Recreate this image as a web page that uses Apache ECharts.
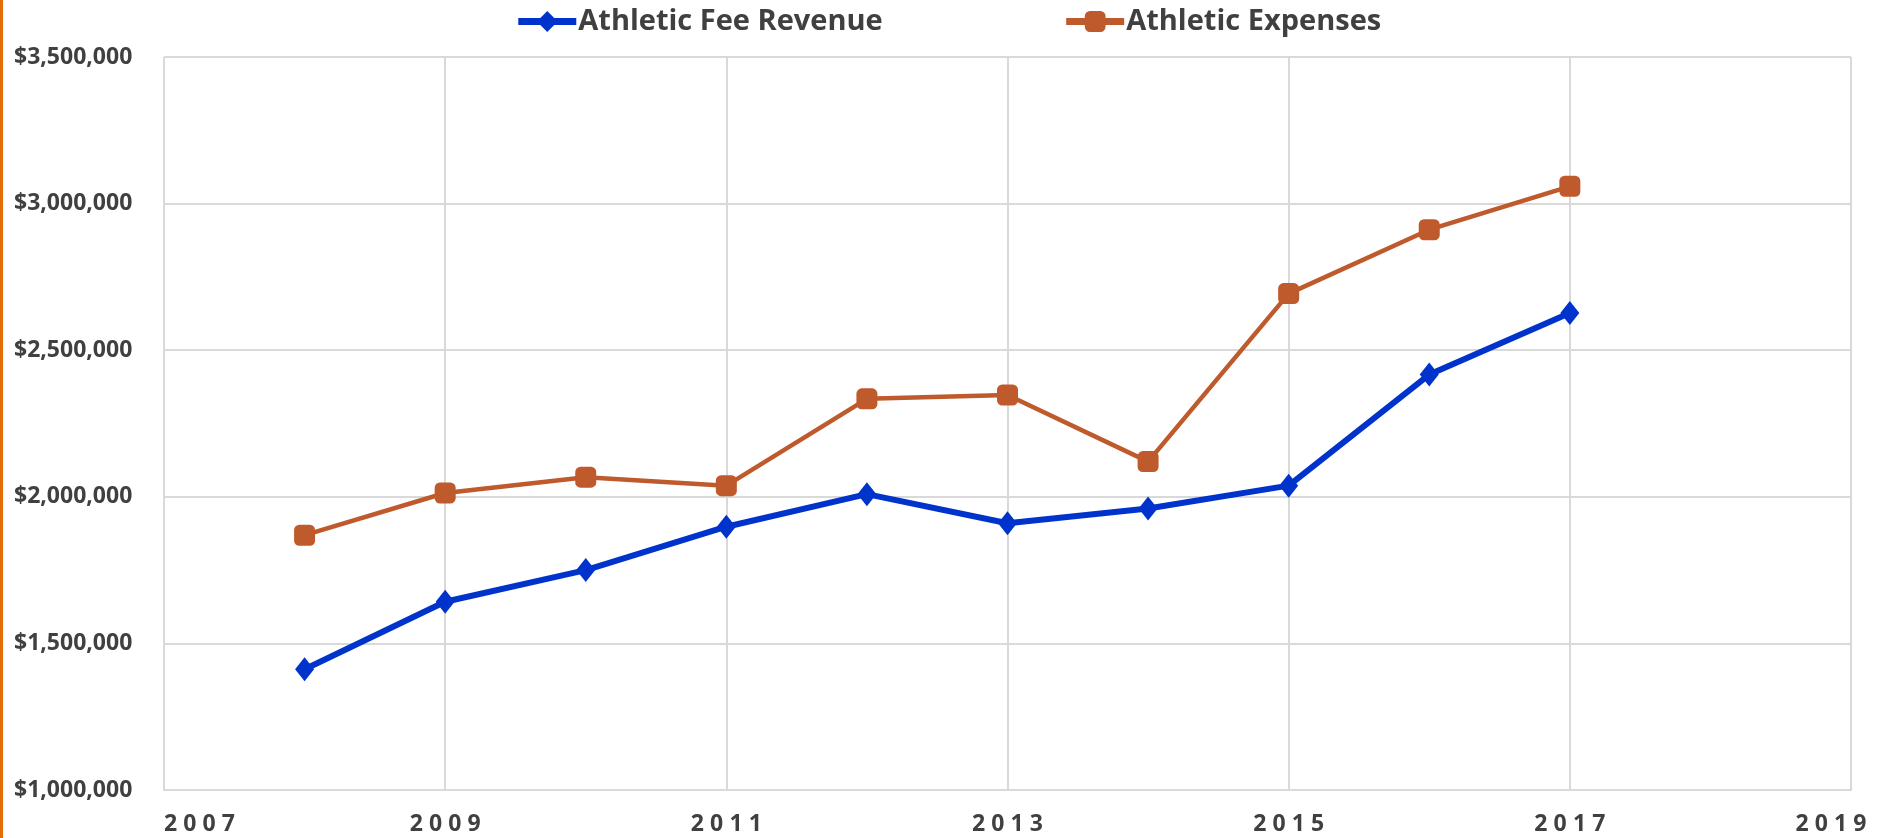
<!DOCTYPE html>
<html>
<head>
<meta charset="utf-8">
<style>
  html, body { margin: 0; padding: 0; background: #fff; }
  #chart { width: 1890px; height: 838px; border-left: 3px solid #E46C0A; }
</style>
<script src="https://cdn.jsdelivr.net/npm/echarts@6/dist/echarts.min.js"></script>
</head>
<body>
<div id="chart"></div>
<script>
// values
var years = [2008, 2009, 2010, 2011, 2012, 2013, 2014, 2015, 2016, 2017];
var feeRevenue = [1412000, 1642000, 1750000, 1898000, 2009000, 1910000, 1960000, 2038000, 2417000, 2627000];
var expenses = [1869000, 2013000, 2067000, 2038000, 2334000, 2347000, 2120000, 2693000, 2911000, 3059000];
var seriesNames = ['Athletic Fee Revenue', 'Athletic Expenses'];

var blue = '#0033CC';
var orange = '#BF5A2C';
var gridColor = '#D9D9D9';
var textColor = '#404040';
var font = '"Open Sans", "Noto Sans", sans-serif';

function pairs(vals) {
  return years.map(function (y, i) { return [y, vals[i]]; });
}

function money(v) {
  return '$' + String(v).replace(/\B(?=(\d{3})+(?!\d))/g, ',');
}

var myChart = echarts.init(document.getElementById('chart'));
var option = {
  animation: false,
  legend: {
    top: 2,
    left: 'center',
    itemGap: 180,
    itemWidth: 58,
    itemHeight: 26,
    textStyle: { color: textColor, fontSize: 29, fontWeight: 'bold', fontFamily: font, padding: [0, 0, 0, -3] },
    data: [
      { name: seriesNames[0], lineStyle: { width: 7 } },
      { name: seriesNames[1], lineStyle: { width: 7 } }
    ]
  },
  grid: { left: 161, right: 42, top: 57, bottom: 48 },
  xAxis: {
    type: 'value',
    min: 2007,
    max: 2019,
    interval: 2,
    axisLine: { show: true, lineStyle: { color: gridColor, width: 2 } },
    axisTick: { show: false },
    splitLine: { show: true, lineStyle: { color: gridColor, width: 2 } },
    axisLabel: {
      margin: 23,
      color: textColor,
      fontSize: 23,
      fontWeight: 'bold',
      fontFamily: font,
      alignMinLabel: 'left',
      alignMaxLabel: 'center',
      formatter: function (v) {
        var s = String(v).split('').join('\u2009\u200a');
        // last label sits a little inside the right edge, as in the source
        return v === 2019 ? '{max|' + s + '}' : s;
      },
      rich: {
        max: { padding: [0, 40, 0, 0], color: textColor, fontSize: 23, fontWeight: 'bold', fontFamily: font }
      }
    }
  },
  yAxis: {
    type: 'value',
    min: 1000000,
    max: 3500000,
    interval: 500000,
    axisLine: { show: false },
    axisTick: { show: false },
    splitLine: { show: true, lineStyle: { color: gridColor, width: 2 } },
    axisLabel: {
      align: 'left',
      margin: 150,
      color: textColor,
      fontSize: 23,
      fontWeight: 'bold',
      fontFamily: font,
      formatter: money
    }
  },
  series: [
    {
      name: seriesNames[0],
      type: 'line',
      data: pairs(feeRevenue),
      symbol: 'diamond',
      symbolSize: [19, 24],
      lineStyle: { color: blue, width: 6 },
      itemStyle: { color: blue }
    },
    {
      name: seriesNames[1],
      type: 'line',
      data: pairs(expenses),
      symbol: 'roundRect',
      symbolSize: 21,
      lineStyle: { color: orange, width: 4.5 },
      itemStyle: { color: orange }
    }
  ]
};
myChart.setOption(option);
window.addEventListener('resize', function () {
  myChart.resize();
});
</script>
</body>
</html>
